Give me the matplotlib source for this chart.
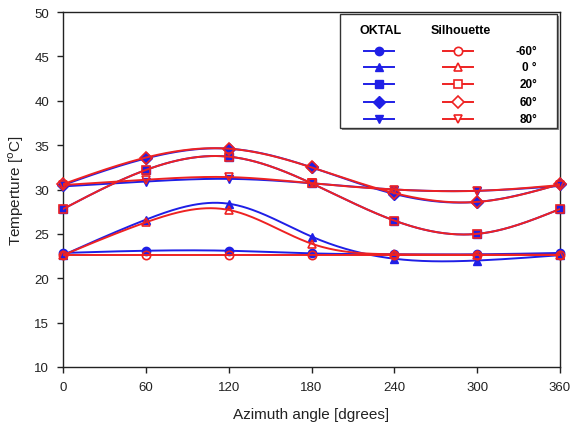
import numpy as np
import matplotlib
matplotlib.use("Agg")
import matplotlib.pyplot as plt
from matplotlib.lines import Line2D
from matplotlib.patches import Rectangle

plt.rcParams['font.family'] = ['Liberation Sans', 'DejaVu Sans']

azimuth = [0, 60, 120, 180, 240, 300, 360]
angles = ["-60°", "0 °", "20°", "60°", "80°"]
markers = ['o', '^', 's', 'D', 'v']

oktal_m60 = [22.85, 23.1, 23.1, 22.8, 22.7, 22.7, 22.85]
oktal_0 = [22.6, 26.6, 28.4, 24.7, 22.2, 22.0, 22.6]
oktal_20 = [27.8, 32.2, 33.7, 30.7, 26.5, 25.0, 27.8]
oktal_60 = [30.5, 33.5, 34.6, 32.5, 29.5, 28.6, 30.6]
oktal_80 = [30.35, 30.9, 31.2, 30.7, 30.0, 29.85, 30.4]

sil_m60 = [22.6, 22.6, 22.6, 22.6, 22.6, 22.6, 22.6]
sil_0 = [22.6, 26.3, 27.7, 23.9, 22.7, 22.65, 22.65]
sil_20 = [27.8, 32.2, 33.7, 30.7, 26.5, 25.0, 27.8]
sil_60 = [30.6, 33.6, 34.6, 32.5, 29.6, 28.6, 30.6]
sil_80 = [30.5, 31.1, 31.4, 30.7, 30.0, 29.85, 30.5]

oktal = [oktal_m60, oktal_0, oktal_20, oktal_60, oktal_80]
sil = [sil_m60, sil_0, sil_20, sil_60, sil_80]

BLUE = '#1f1fe6'
RED = '#ee2222'


def natural_spline(x, y, n=300):
    x = np.asarray(x, float)
    y = np.asarray(y, float)
    k = len(x)
    h = np.diff(x)
    A = np.zeros((k, k))
    b = np.zeros(k)
    A[0, 0] = 1
    A[-1, -1] = 1
    for i in range(1, k - 1):
        A[i, i - 1] = h[i - 1]
        A[i, i] = 2 * (h[i - 1] + h[i])
        A[i, i + 1] = h[i]
        b[i] = 6 * ((y[i + 1] - y[i]) / h[i] - (y[i] - y[i - 1]) / h[i - 1])
    M = np.linalg.solve(A, b)
    xs = np.linspace(x[0], x[-1], n)
    ys = np.empty_like(xs)
    for j, xv in enumerate(xs):
        i = min(np.searchsorted(x, xv, side='right') - 1, k - 2)
        t1 = x[i + 1] - xv
        t0 = xv - x[i]
        ys[j] = (M[i] * t1 ** 3 / (6 * h[i]) + M[i + 1] * t0 ** 3 / (6 * h[i])
                 + (y[i] / h[i] - M[i] * h[i] / 6) * t1
                 + (y[i + 1] / h[i] - M[i + 1] * h[i] / 6) * t0)
    return xs, ys


W, H = 572, 431
fig = plt.figure(figsize=(W / 100, H / 100), dpi=100)
ax = fig.add_axes([63 / W, 1 - 368 / H, (560 - 63) / W, (368 - 13) / H])

for yv, m in zip(oktal, markers):
    xs, ys = natural_spline(azimuth, yv)
    ax.plot(xs, ys, color=BLUE, lw=1.4, zorder=2)
    ax.plot(azimuth, yv, ls='none', marker=m, ms=6, color=BLUE, mec=BLUE,
            zorder=3, clip_on=False)
for yv, m in zip(sil, markers):
    xs, ys = natural_spline(azimuth, yv)
    ax.plot(xs, ys, color=RED, lw=1.4, zorder=4)
    ax.plot(azimuth, yv, ls='none', marker=m, ms=6, mfc='none', mec=RED,
            mew=1.2, zorder=5, clip_on=False)

ax.set_xlim(0, 360)
ax.set_ylim(10, 50)
ax.set_xticks(azimuth)
ax.set_yticks(range(10, 51, 5))
ax.tick_params(direction='out', length=4, width=1, labelsize=9.5,
               colors='#222222', pad=6)
for s in ax.spines.values():
    s.set_linewidth(1.0)
    s.set_color('#222222')
ax.set_xlabel('Azimuth angle [dgrees]', fontsize=11, labelpad=10, color='#222222')
ax.set_ylabel('Temperture [$^{\\mathrm{o}}$C]', fontsize=11, labelpad=6, color='#222222')


def fx(px):
    return px / W


def fy(py):
    return 1 - py / H


# legend box (thin shadow + box)
fig.add_artist(Rectangle((fx(342), fy(131)), (559 - 342) / W, (131 - 17) / H,
                         transform=fig.transFigure, facecolor='#888888',
                         edgecolor='none', zorder=9))
fig.add_artist(Rectangle((fx(340), fy(129)), (557 - 340) / W, (129 - 15) / H,
                         transform=fig.transFigure, facecolor='white',
                         edgecolor='#333333', lw=1.0, zorder=10))
fig.text(fx(381), fy(31), 'OKTAL', ha='center', va='center', fontsize=9,
         fontweight='bold', zorder=11)
fig.text(fx(461), fy(31), 'Silhouette', ha='center', va='center', fontsize=9,
         fontweight='bold', zorder=11)
rows = [51.7, 68.3, 85.3, 102.7, 120]
for ry, m, lab in zip(rows, markers, angles):
    fig.add_artist(Line2D([fx(364), fx(394)], [fy(ry), fy(ry)], color=BLUE, lw=1.4,
                          transform=fig.transFigure, zorder=11))
    fig.add_artist(Line2D([fx(379)], [fy(ry)], marker=m, ms=6, color=BLUE,
                          ls='none', transform=fig.transFigure, zorder=12))
    fig.add_artist(Line2D([fx(443), fx(473)], [fy(ry), fy(ry)], color=RED, lw=1.4,
                          transform=fig.transFigure, zorder=11))
    fig.add_artist(Line2D([fx(458)], [fy(ry)], marker=m, ms=6, mfc='white', mec=RED,
                          mew=1.2, ls='none', transform=fig.transFigure, zorder=12))
    fig.text(fx(537), fy(ry), lab, ha='right', va='center', fontsize=8.5,
             fontweight='bold', zorder=11)

fig.savefig('out.png', dpi=100)
